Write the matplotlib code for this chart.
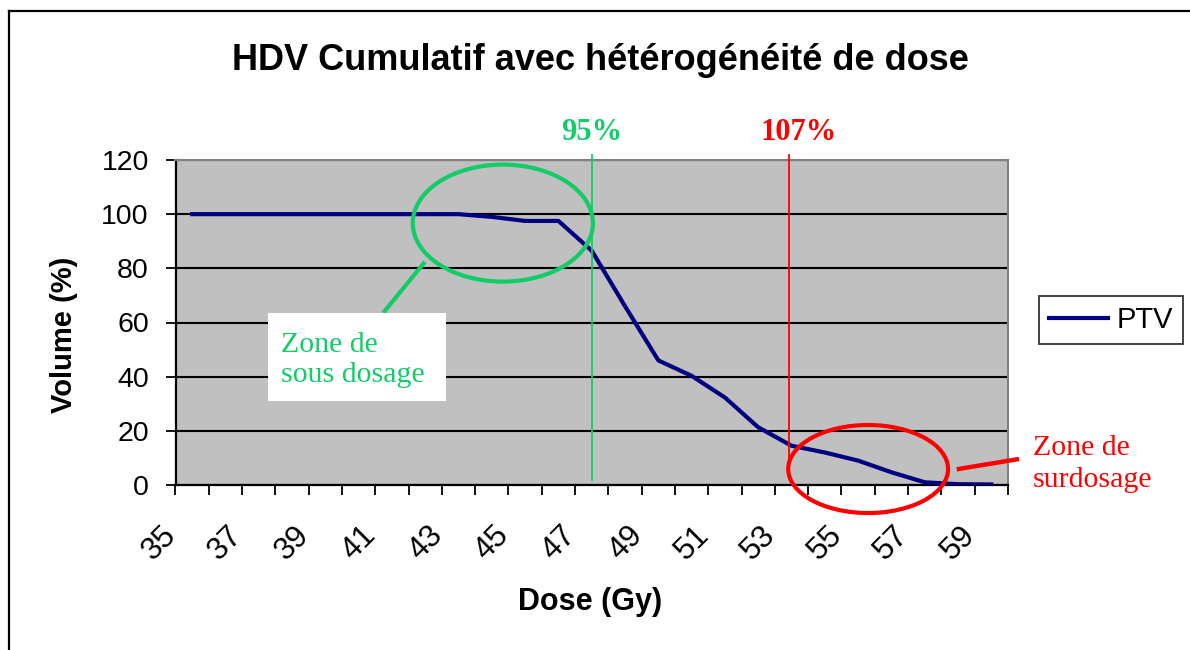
"""
HDV cumulatif (PTV) avec zones de sous- et surdosage.
"""
import matplotlib
matplotlib.use('Agg')
import matplotlib.pyplot as plt
from matplotlib.lines import Line2D
from matplotlib.patches import Ellipse, Rectangle
from matplotlib.ticker import FixedLocator, MultipleLocator
import matplotlib.transforms as mtransforms

# Dose categories (Gy) and PTV volume (%)
DOSES = list(range(35, 60))
VOLUME = [100, 100, 100, 100, 100, 100, 100, 100, 100,
          99.0, 97.5, 97.5, 86.5, 66.0, 46.0, 40.3, 32.3,
          21.3, 14.5, 12.0, 9.0, 4.7, 1.0, 0.3, 0.2]
DOSE_LABELS = [str(d) for d in range(35, 60, 2)]
Y_TICKS = [0, 20, 40, 60, 80, 100, 120]

SANS = 'Liberation Sans'
SERIF = 'Liberation Serif'
GREEN = '#12CC68'
RED = '#FF0000'
NAVY = '#000080'


def main():
    plt.rcParams['font.family'] = SANS
    fig = plt.figure(figsize=(11.9, 6.5), dpi=100)
    ax = fig.add_axes([175.5 / 1190, 1 - 485 / 650, 832.5 / 1190, 325 / 650])
    ax.set_facecolor('#C0C0C0')

    # outer chart frame (cut by the image edges)
    fig.add_artist(Line2D([9 / 1190, 1], [1 - 11 / 650] * 2, color='black', lw=1.6))
    fig.add_artist(Line2D([9 / 1190] * 2, [0, 1 - 11 / 650], color='black', lw=1.6))

    ax.plot(DOSES, VOLUME, color=NAVY, lw=3, label='PTV', zorder=5,
            solid_joinstyle='round')

    ax.set_xlim(DOSES[0] - 0.5, DOSES[-1] + 0.5)
    ax.set_ylim(0, 120)
    ax.yaxis.set_major_locator(FixedLocator(Y_TICKS))
    ax.yaxis.grid(True, color='black', lw=1.5)
    ax.set_axisbelow(True)

    ax.xaxis.set_major_locator(FixedLocator(range(35, 60, 2)))
    ax.set_xticklabels(DOSE_LABELS)
    ax.xaxis.set_minor_locator(MultipleLocator(1, offset=0.5))
    ax.tick_params(axis='x', which='major', length=0, pad=25, labelsize=22.5)
    ax.tick_params(axis='x', which='minor', length=7.2, width=1.3, direction='out')
    ax.tick_params(axis='y', length=7.2, width=1.3, pad=12, labelsize=20.5)
    shift = mtransforms.ScaledTranslation(-0.10, 0, fig.dpi_scale_trans)
    for lab in ax.get_xticklabels():
        lab.set_rotation(45)
        lab.set_ha('right')
        lab.set_va('top')
        lab.set_transform(lab.get_transform() + shift)

    for side in ('left', 'bottom'):
        ax.spines[side].set_linewidth(1.6)
        ax.spines[side].set_color('black')
    for side in ('top', 'right'):
        ax.spines[side].set_linewidth(1.5)
        ax.spines[side].set_color('#808080')

    ax.set_xlabel('Dose (Gy)', fontsize=22, fontweight='bold', va='center')
    ax.xaxis.set_label_coords(0.498, -0.36)
    ax.set_ylabel('Volume (%)', fontsize=21, fontweight='bold', va='center')
    ax.yaxis.set_label_coords(-0.134, 0.462)

    fig.text(0.5046, 1 - 70 / 650, 'HDV Cumulatif avec hétérogénéité de dose',
             fontsize=26, fontweight='bold', ha='center', va='baseline')

    # 95 % / 107 % markers
    ax.plot([47.0, 47.0], [1.8, 121.9], color=GREEN, lw=1.3, clip_on=False, zorder=6)
    ax.plot([52.93, 52.93], [8.5, 121.9], color=RED, lw=1.3, clip_on=False, zorder=6)
    ax.text(47.01, 127.2, '95%', color=GREEN, family=SERIF, fontweight='bold',
            fontsize=22, ha='center', va='baseline')
    ax.text(53.22, 127.2, '107%', color=RED, family=SERIF, fontweight='bold',
            fontsize=22, ha='center', va='baseline')

    # under-dose zone
    ax.add_patch(Ellipse((44.33, 96.7), 5.41, 43.2, fill=False, ec=GREEN,
                         lw=3, zorder=7, clip_on=False))
    ax.plot([41.99, 40.74], [82.4, 63.6], color=GREEN, lw=3, zorder=7,
            solid_capstyle='butt')
    ax.add_patch(Rectangle((37.29, 31.1), 5.33, 32.3, fc='white', ec='none', zorder=8))
    ax.text(37.67, 38.1, 'Zone de\nsous dosage', color=GREEN, family=SERIF,
            fontsize=21.5, ha='left', va='baseline', linespacing=1.2, zorder=9)

    # over-dose zone
    ax.add_patch(Ellipse((55.30, 5.9), 4.80, 32.5, fill=False, ec=RED,
                         lw=3, zorder=7, clip_on=False))
    ax.plot([57.96, 59.83], [5.8, 9.6], color=RED, lw=3.2, zorder=7,
            clip_on=False, solid_capstyle='butt')
    ax.text(60.24, -0.7, 'Zone de\nsurdosage', color=RED, family=SERIF,
            fontsize=21.5, ha='left', va='baseline', linespacing=1.28,
            clip_on=False)

    leg = fig.legend(loc='center', bbox_to_anchor=(1111 / 1190, 1 - 320 / 650),
                     fontsize=21, frameon=True, fancybox=False, handlelength=2.0,
                     handletextpad=0.3, borderpad=0.35, borderaxespad=0)
    leg.get_frame().set_edgecolor('black')
    leg.get_frame().set_linewidth(1.3)

    fig.savefig('out.png', dpi=100)
    plt.close(fig)


if __name__ == '__main__':
    main()
